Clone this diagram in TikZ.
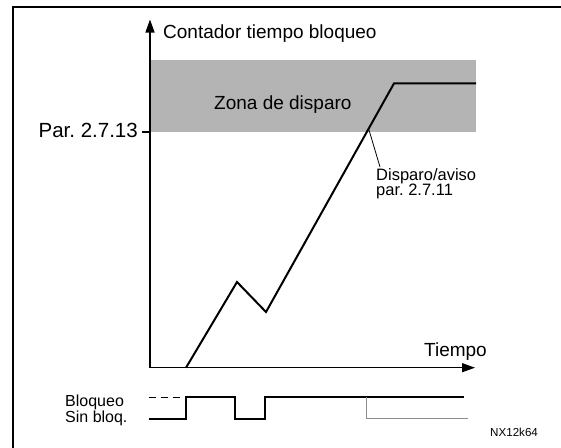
\documentclass[tikz,border=0pt]{standalone}
\usepackage{fontspec}
\setmainfont{Liberation Sans}
\usetikzlibrary{arrows.meta}
\definecolor{zonegray}{RGB}{180,180,180}
\definecolor{offgray}{RGB}{140,140,140}
\frenchspacing
\begin{document}
\begin{tikzpicture}[x=1pt,y=-1pt,
  axisline/.style={line width=1.3pt,-{Triangle[length=13pt,width=9pt]}},
  curveline/.style={line width=2pt,line join=miter},
  sigline/.style={line width=2pt},
  lbl/.style={inner sep=0pt,font=\fontsize{19}{22}\selectfont},
  smalllbl/.style={inner sep=0pt,font=\fontsize{16.5}{16}\selectfont},
  siglbl/.style={inner sep=0pt,align=left,font={\fontsize{16}{16}\selectfont\lineskiplimit=-20pt}}]
\useasboundingbox (0,0) rectangle (561,447);
\fill[white] (0,0) rectangle (561,447);
% frame (open to the right and bottom)
\draw[line width=2pt] (12.7,460) -- (12.7,7.3) -- (575,7.3);
% trip zone
\fill[zonegray] (150,60) rectangle (476,132);
% axes
\coordinate (O) at (150,367.7);
\coordinate (ytip) at (150,19.5);
\coordinate (xtip) at (475,367.7);
\draw[axisline] (O) -- (ytip);
\draw[axisline] (O) -- (xtip);
% tick
\coordinate (tickL) at (142,132);
\coordinate (tickR) at (150,132);
\draw[line width=1.3pt] (tickL) -- (tickR);
% counter curve
\coordinate (c0) at (186,367.7);
\coordinate (c1) at (237,282);
\coordinate (c2) at (266,312);
\coordinate (c3) at (394,83.4);
\coordinate (c4) at (476,83.4);
\draw[curveline] (c0) -- (c1) -- (c2) -- (c3) -- (c4);
% leader line
\coordinate (lead0) at (369,130);
\coordinate (lead1) at (380,167);
\draw[line width=0.8pt] (lead0) -- (lead1);
% labels
\node[lbl,anchor=base west] (ylabel) at (163,38.6) {Contador tiempo bloqueo};
\node[lbl,anchor=base west] (zone) at (214,109.8) {Zona de disparo};
\node[lbl,anchor=base east,font=\fontsize{20.5}{22}\selectfont] (par) at (138,137.7) {Par. 2.7.13};
\node[lbl,anchor=base east] (xlabel) at (487,356.7) {Tiempo};
\node[smalllbl,anchor=base west] (trip1) at (376,180) {Disparo/aviso};
\node[smalllbl,anchor=base west] (trip2) at (376,195.7) {par. 2.7.11};
% signal
\node[siglbl,anchor=base west] (levels) at (65,422.5) {Bloqueo\\Sin bloq.};
\coordinate (s0) at (148.5,418.6);
\coordinate (s1) at (186,418.6);
\coordinate (s2) at (186,397.2);
\coordinate (s3) at (235.4,397.2);
\coordinate (s4) at (235.4,418.6);
\coordinate (s5) at (264.8,418.6);
\coordinate (s6) at (264.8,397.2);
\coordinate (s7) at (464,397.2);
\draw[sigline] (s0) -- (s1) -- (s2) -- (s3) -- (s4) -- (s5) -- (s6) -- (s7);
\coordinate (d0) at (148.5,397.2);
\coordinate (d1) at (180,397.2);
\draw[line width=1pt,dash pattern=on 7pt off 5pt] (d0) -- (d1);
\coordinate (g0) at (366.7,397.2);
\coordinate (g1) at (366.7,418.6);
\coordinate (g2) at (467.6,418.6);
\draw[offgray,line width=1.3pt] (g0) -- (g1) -- (g2);
\node[inner sep=0pt,anchor=base west,font=\fontsize{11.6}{13}\selectfont] (code) at (490,436) {NX12k64};
\end{tikzpicture}
\end{document}
